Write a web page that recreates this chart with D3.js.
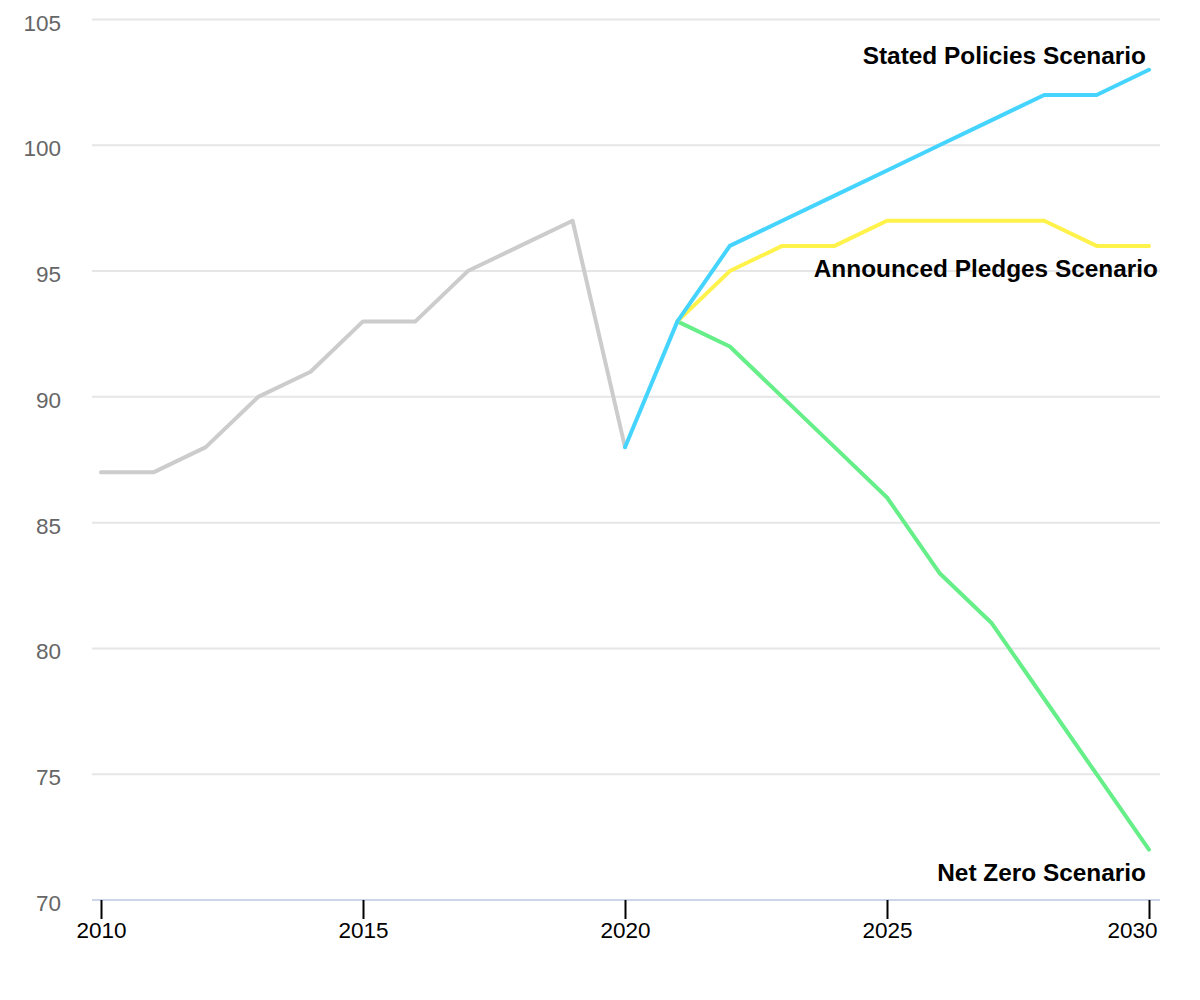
<!DOCTYPE html>
<html>
<head>
<meta charset="utf-8">
<script src="https://cdn.jsdelivr.net/npm/d3@7"></script>
<style>
  html, body { margin: 0; padding: 0; background: #fff; }
  svg { display: block; font-family: "Liberation Sans", Arial, sans-serif; }
</style>
</head>
<body>
<svg id="chart" width="1200" height="1000"></svg>
<script>
const historyYears = [2010, 2011, 2012, 2013, 2014, 2015, 2016, 2017, 2018, 2019, 2020];
const historyValues = [87, 87, 88, 90, 91, 93, 93, 95, 96, 97, 88];

const statedYears = [2020, 2021, 2022, 2023, 2024, 2025, 2026, 2027, 2028, 2029, 2030];
const statedValues = [88, 93, 96, 97, 98, 99, 100, 101, 102, 102, 103];

const pledgesYears = [2021, 2022, 2023, 2024, 2025, 2026, 2027, 2028, 2029, 2030];
const pledgesValues = [93, 95, 96, 96, 97, 97, 97, 97, 96, 96];

const netZeroYears = [2021, 2022, 2023, 2024, 2025, 2026, 2027, 2028, 2029, 2030];
const netZeroValues = [93, 92, 90, 88, 86, 83, 81, 78, 75, 72];

const yTicks = [70, 75, 80, 85, 90, 95, 100, 105];
const xTicks = [2010, 2015, 2020, 2025, 2030];

const seriesLabels = ["Stated Policies Scenario", "Announced Pledges Scenario", "Net Zero Scenario"];

const svg = d3.select("#chart");
const x = d3.scaleLinear().domain([2010, 2030]).range([101, 1149]);
const y = d3.scaleLinear().domain([70, 105]).range([900, 19.5]);

const gridLeft = 92, gridRight = 1160;

// gridlines
svg.append("g").selectAll("line")
  .data(yTicks.filter(d => d !== 70))
  .join("line")
  .attr("x1", gridLeft).attr("x2", gridRight)
  .attr("y1", d => y(d)).attr("y2", d => y(d))
  .attr("stroke", "#e6e6e6").attr("stroke-width", 2);

// y labels
svg.append("g").selectAll("text")
  .data(yTicks)
  .join("text")
  .attr("x", 61).attr("y", d => y(d) + 11)
  .attr("text-anchor", "end")
  .attr("fill", "#666666")
  .attr("font-size", "22.5px")
  .text(d => d);

// x axis line
svg.append("line")
  .attr("x1", gridLeft).attr("x2", gridRight)
  .attr("y1", y(70)).attr("y2", y(70))
  .attr("stroke", "#ccd6eb").attr("stroke-width", 2);

// x axis ticks & labels
const xAxis = d3.axisBottom(x).tickValues(xTicks).tickFormat(d3.format("d")).tickSize(19).tickPadding(3);
const gx = svg.append("g").attr("transform", `translate(0,${y(70)})`).call(xAxis);
gx.select(".domain").remove();
gx.selectAll(".tick line").attr("stroke", "#000").attr("stroke-width", 2);
gx.selectAll(".tick text")
  .attr("fill", "#000")
  .attr("font-size", "22.5px")
  .attr("font-family", "'Liberation Sans', Arial, sans-serif");
// keep the last label inside the plot (justified like the reference)
gx.selectAll(".tick text").filter(d => d === 2030)
  .attr("text-anchor", "end").attr("x", 8);

const line = d3.line().x(d => x(d[0])).y(d => y(d[1]));
function drawSeries(years, values, color) {
  svg.append("path")
    .datum(years.map((yr, i) => [yr, values[i]]))
    .attr("d", line)
    .attr("fill", "none")
    .attr("stroke", color)
    .attr("stroke-width", 4)
    .attr("stroke-linejoin", "round")
    .attr("stroke-linecap", "round");
}

drawSeries(historyYears, historyValues, "#cccccc");
drawSeries(netZeroYears, netZeroValues, "#66ee88");
drawSeries(pledgesYears, pledgesValues, "#fff24a");
drawSeries(statedYears, statedValues, "#45d4ff");

// series labels
const labelStyle = sel => sel.attr("font-size", "24.4px").attr("font-weight", "bold").attr("fill", "#000").attr("text-anchor", "end");
svg.append("text").attr("x", 1146).attr("y", 64).call(labelStyle).text(seriesLabels[0]);
svg.append("text").attr("x", 1158).attr("y", 277).call(labelStyle).text(seriesLabels[1]);
svg.append("text").attr("x", 1146).attr("y", 881).call(labelStyle).text(seriesLabels[2]);
</script>
</body>
</html>
